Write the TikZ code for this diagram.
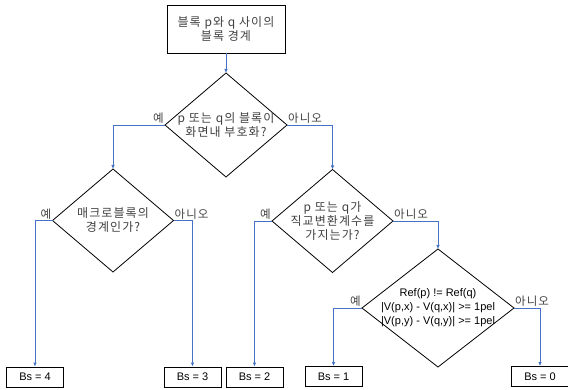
\documentclass[tikz,border=0pt]{standalone}
\usepackage{fontspec}
\setmainfont{Liberation Sans}
\newfontfamily\kr[LetterSpace=9]{Noto Sans CJK KR}
\usetikzlibrary{shapes.geometric,arrows.meta}
\definecolor{connblue}{HTML}{4472C4}
\definecolor{krgray}{HTML}{404040}
\tikzset{
  dia/.style={diamond,draw=black,line width=0.8pt,inner sep=0pt,outer sep=0pt},
  dtext/.style={align=center,font=\kr\fontsize{12}{14}\selectfont,text=krgray,inner sep=0pt},
  bsbox/.style={draw=black,line width=0.8pt,minimum width=57,minimum height=20,inner sep=0pt,font=\fontsize{11}{13}\selectfont},
  conn/.style={draw=connblue,line width=0.8pt,-{Latex[length=4pt,width=3.5pt]}},
  yes/.style={font=\kr\fontsize{11.5}{12}\selectfont,text=krgray,inner sep=1pt,anchor=south east},
  no/.style={font=\kr\fontsize{11.5}{12}\selectfont,text=krgray,inner sep=1pt,anchor=south west}
}
\begin{document}
\begin{tikzpicture}[x=1pt,y=-1pt]
\useasboundingbox (0,0) rectangle (568,390);
% top box
\node[draw=black,line width=0.8pt,minimum width=118,minimum height=48,inner sep=0pt,align=center,font=\kr\fontsize{12}{14}\selectfont,text=krgray] (start) at (226,29) {블록 p와 q 사이의\\블록 경계};
% diamonds
\node[dia,minimum width=122,minimum height=104] (d1) at (226,125) {};
\node[dtext] (t1) at (d1.center) {p 또는 q의 블록이\\화면내 부호화?};
\node[dia,minimum width=121,minimum height=103] (d2) at (113,220.5) {};
\node[dtext] (t2) at (d2.center) {매크로블록의\\경계인가?};
\node[dia,minimum width=121,minimum height=103] (d3) at (332.5,221) {};
\node[dtext] (t3) at (d3.center) {p 또는 q가\\직교변환계수를\\가지는가?};
\node[dia,minimum width=152,minimum height=118] (d4) at (438,308) {};
\node[align=center,font=\fontsize{11}{14}\selectfont,inner sep=0pt] (t4) at (d4.center) {Ref(p) != Ref(q)\\|V(p,x) - V(q,x)| >= 1pel\\|V(p,y) - V(q,y)| >= 1pel};
% result boxes
\node[bsbox] (b4) at (35,377) {Bs = 4};
\node[bsbox] (b3) at (192.5,377) {Bs = 3};
\node[bsbox] (b2) at (254.5,377) {Bs = 2};
\node[bsbox] (b1) at (333.5,376.5) {Bs = 1};
\node[bsbox] (b0) at (540,376.5) {Bs = 0};
% connectors
\draw[conn] (start.south) -- (d1.north);
\draw[conn] (d1.west) -| (d2.north);
\draw[conn] (d1.east) -| (d3.north);
\draw[conn] (d2.west) -| (b4.north);
\draw[conn] (d2.east) -| (b3.north);
\draw[conn] (d3.west) -| (b2.north);
\draw[conn] (d3.east) -| (d4.north);
\draw[conn] (d4.west) -| (b1.north);
\draw[conn] (d4.east) -| (b0.north);
% labels
\node[yes] (y1) at (d1.west) {예};
\node[no] (n1) at (d1.east) {아니오};
\node[yes] (y2) at (d2.west) {예};
\node[no] (n2) at (d2.east) {아니오};
\node[yes] (y3) at (d3.west) {예};
\node[no] (n3) at (d3.east) {아니오};
\node[yes] (y4) at (d4.west) {예};
\node[no] (n4) at (d4.east) {아니오};
\end{tikzpicture}
\end{document}
